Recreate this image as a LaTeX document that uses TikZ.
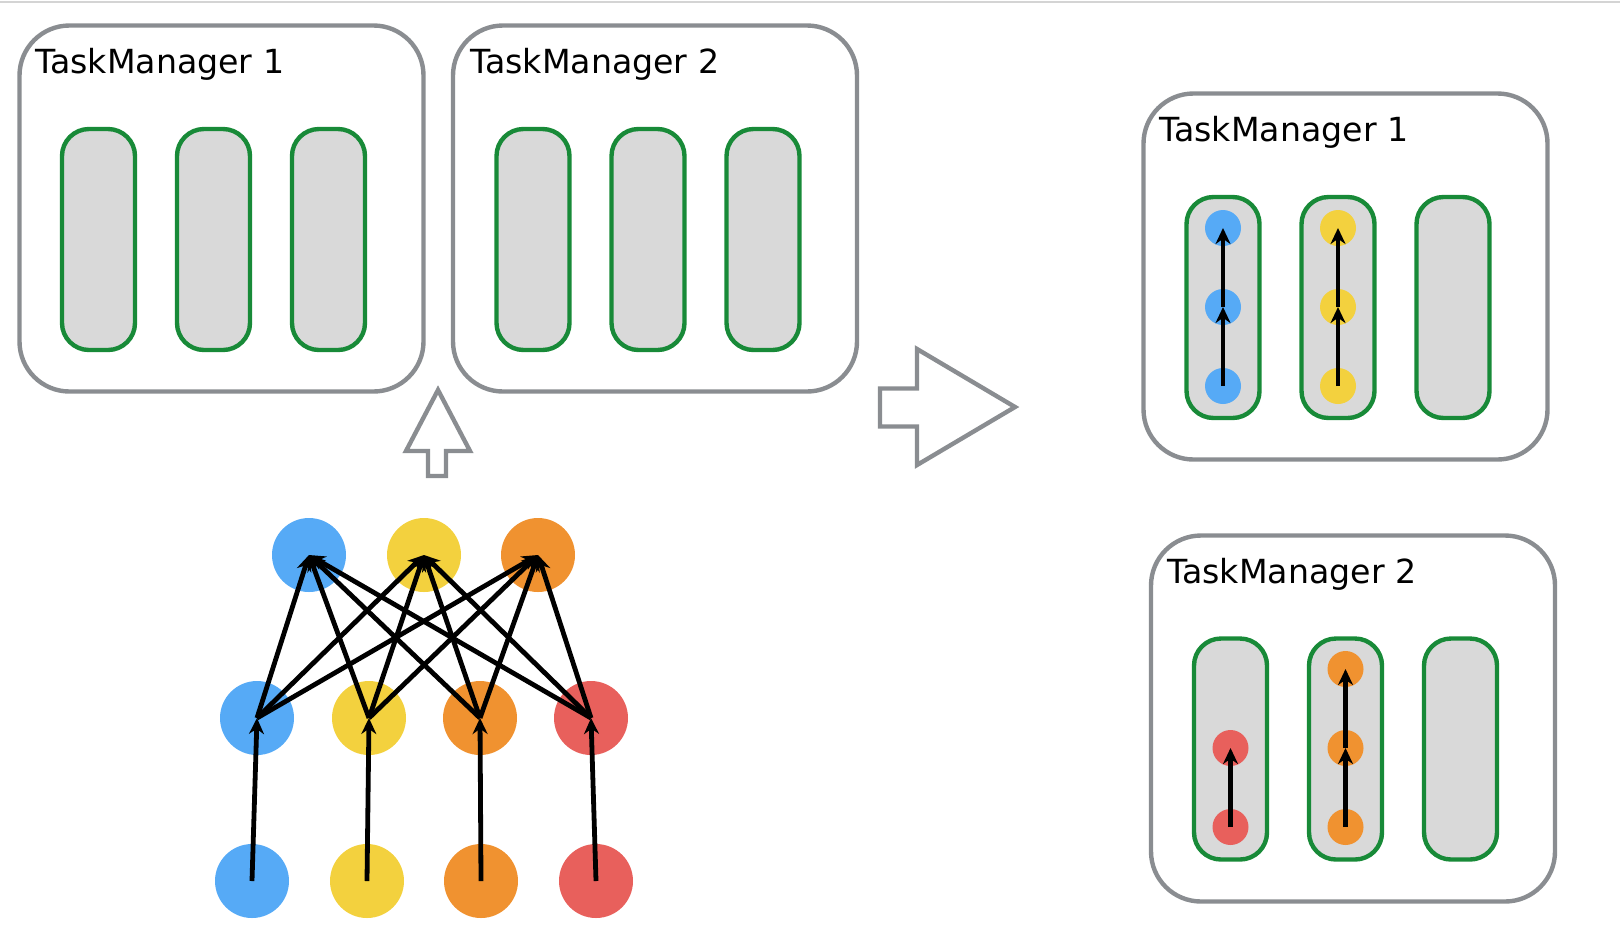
\documentclass[tikz,border=0pt]{standalone}
\usepackage{fontspec}
\setmainfont{DejaVu Sans}
\usetikzlibrary{arrows.meta}
\definecolor{tmgray}{RGB}{138,141,145}
\definecolor{slotgreen}{RGB}{24,138,56}
\definecolor{slotfill}{RGB}{217,217,217}
\definecolor{opblue}{RGB}{86,170,246}
\definecolor{opyellow}{RGB}{243,209,62}
\definecolor{oporange}{RGB}{240,146,48}
\definecolor{opred}{RGB}{232,96,92}

\begin{document}
\begin{tikzpicture}[x=0.5pt, y=-0.5pt,
  tmbox/.style={draw=tmgray, line width=2.2pt, rounded corners=25pt, minimum width=202pt, minimum height=183pt},
  tmlabel/.style={anchor=base west, inner sep=0pt, font=\fontsize{16.6}{19}\selectfont},
  slot/.style={draw=slotgreen, fill=slotfill, line width=2.2pt, rounded corners=13.5pt, minimum width=36.5pt, minimum height=110.5pt},
  op/.style={circle, inner sep=0pt, minimum size=37pt},
  subtask/.style={circle, inner sep=0pt, minimum size=18pt},
  flow/.style={line width=2.4pt, -{Stealth[length=8pt, width=7.5pt]}},
  bigarrow/.style={draw=tmgray, line width=2.2pt, miter limit=10}]
  \useasboundingbox (0,0) rectangle (1620,944);
  \draw[line width=1pt, black!17] (0,1.5) -- (1620,1.5);

  % TaskManagers before deployment
  \node[tmbox] (tmA) at (221.5,208.5) {};
  \node[tmbox] (tmB) at (655,208.5) {};
  \node[tmlabel] (tmAlabel) at (35,73) {TaskManager 1};
  \node[tmlabel] (tmBlabel) at (470,73) {TaskManager 2};
  \foreach \i in {0,1,2} {
    \node[slot] (sA\i) at (98.5+115*\i,239.5) {};
    \node[slot] (sB\i) at (533+115*\i,239.5) {};
  }

  % Block arrows
  \draw[bigarrow] (438,390) -- (470,451) -- (446,451) -- (446,476) -- (428,476)
    -- (428,451) -- (406,451) -- cycle;
  \draw[bigarrow] (1015,407) -- (917,349) -- (917,388.5) -- (880,388.5)
    -- (880,426.5) -- (917,426.5) -- (917,465) -- cycle;

  % Job graph
  \node[op, fill=opblue]   (t1) at (309,555) {};
  \node[op, fill=opyellow] (t2) at (424,555) {};
  \node[op, fill=oporange] (t3) at (538,555) {};
  \node[op, fill=opblue]   (m1) at (257,718) {};
  \node[op, fill=opyellow] (m2) at (369,718) {};
  \node[op, fill=oporange] (m3) at (480,718) {};
  \node[op, fill=opred]    (m4) at (591,718) {};
  \node[op, fill=opblue]   (b1) at (252,881) {};
  \node[op, fill=opyellow] (b2) at (367,881) {};
  \node[op, fill=oporange] (b3) at (481,881) {};
  \node[op, fill=opred]    (b4) at (596,881) {};
  \foreach \i in {1,...,4}
    \draw[flow] (b\i.center) -- (m\i.center);
  \foreach \i in {1,...,4}
    \foreach \j in {1,2,3}
      \draw[flow] (m\i.center) -- (t\j.center);

  % TaskManagers after deployment
  \node[tmbox] (tmC) at (1345.5,276.5) {};
  \node[tmbox] (tmD) at (1353,718.5) {};
  \node[tmlabel] (tmClabel) at (1159,141) {TaskManager 1};
  \node[tmlabel] (tmDlabel) at (1167,583) {TaskManager 2};
  \foreach \i in {0,1,2} {
    \node[slot] (sC\i) at (1223+115*\i,307.5) {};
    \node[slot] (sD\i) at (1230.5+115*\i,749) {};
  }

  % Subtasks in slots
  \node[subtask, fill=opblue]   (c1) at (1223,228) {};
  \node[subtask, fill=opblue]   (c2) at (1223,307) {};
  \node[subtask, fill=opblue]   (c3) at (1223,386) {};
  \node[subtask, fill=opyellow] (c4) at (1338,228) {};
  \node[subtask, fill=opyellow] (c5) at (1338,307) {};
  \node[subtask, fill=opyellow] (c6) at (1338,386) {};
  \node[subtask, fill=opred]    (d1) at (1230.5,748) {};
  \node[subtask, fill=opred]    (d2) at (1230.5,827) {};
  \node[subtask, fill=oporange] (d3) at (1345.5,669) {};
  \node[subtask, fill=oporange] (d4) at (1345.5,748) {};
  \node[subtask, fill=oporange] (d5) at (1345.5,827) {};
  \draw[flow] (c3.center) -- (c2.center);
  \draw[flow] (c2.center) -- (c1.center);
  \draw[flow] (c6.center) -- (c5.center);
  \draw[flow] (c5.center) -- (c4.center);
  \draw[flow] (d2.center) -- (d1.center);
  \draw[flow] (d5.center) -- (d4.center);
  \draw[flow] (d4.center) -- (d3.center);
\end{tikzpicture}
\end{document}
